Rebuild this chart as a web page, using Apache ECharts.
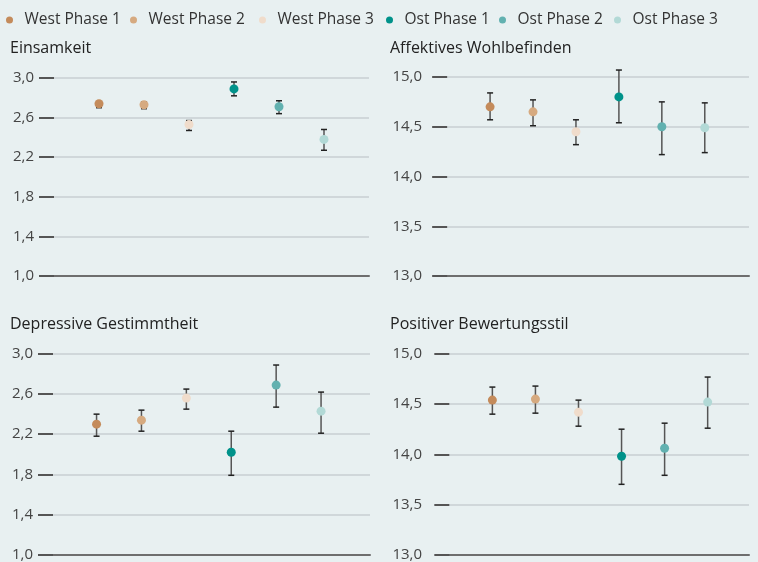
<!DOCTYPE html>
<html>
<head>
<meta charset="utf-8">
<script src="https://cdn.jsdelivr.net/npm/echarts@6/dist/echarts.min.js"></script>
<style>
  html, body { margin: 0; padding: 0; background: #e8f0f1; }
  #chart { width: 758px; height: 562px; }
</style>
</head>
<body>
<div id="chart"></div>
<script>
// Gruppen + Farben
const groups = ['West Phase 1', 'West Phase 2', 'West Phase 3', 'Ost Phase 1', 'Ost Phase 2', 'Ost Phase 3'];
const colors = ['#c48b5b', '#d6aa80', '#f0dccb', '#00928a', '#62b1b0', '#b2d9d6'];

// Einsamkeit
const einsamkeitMean = [2.74, 2.73, 2.53, 2.89, 2.71, 2.38];
const einsamkeitLow  = [2.70, 2.69, 2.47, 2.82, 2.64, 2.27];
const einsamkeitHigh = [2.76, 2.76, 2.57, 2.96, 2.77, 2.48];

// Affektives Wohlbefinden
const wohlMean = [14.70, 14.65, 14.45, 14.80, 14.50, 14.49];
const wohlLow  = [14.57, 14.51, 14.32, 14.54, 14.22, 14.24];
const wohlHigh = [14.84, 14.77, 14.57, 15.07, 14.75, 14.74];

// Depressive Gestimmtheit
const depMean = [2.30, 2.34, 2.56, 2.02, 2.69, 2.43];
const depLow  = [2.18, 2.23, 2.45, 1.79, 2.47, 2.21];
const depHigh = [2.40, 2.44, 2.65, 2.23, 2.89, 2.62];

// Positiver Bewertungsstil
const posMean = [14.54, 14.55, 14.42, 13.98, 14.06, 14.52];
const posLow  = [14.40, 14.41, 14.28, 13.70, 13.79, 14.26];
const posHigh = [14.67, 14.68, 14.54, 14.25, 14.31, 14.77];

const titles = ['Einsamkeit', 'Affektives Wohlbefinden', 'Depressive Gestimmtheit', 'Positiver Bewertungsstil'];
const yMin = [1, 13, 1, 13];
const yMax = [3, 15, 3, 15];
const yStep = [0.4, 0.5, 0.4, 0.5];
const panels = [
  [einsamkeitMean, einsamkeitLow, einsamkeitHigh],
  [wohlMean, wohlLow, wohlHigh],
  [depMean, depLow, depHigh],
  [posMean, posLow, posHigh]
];

const FONT = 'Open Sans';
const grids = [
  { left: 54, top: 78, width: 315, height: 198 },
  { left: 442, top: 77, width: 307, height: 199 },
  { left: 53, top: 354, width: 317, height: 201 },
  { left: 442, top: 354, width: 307, height: 201 }
];
const xRange = [[0, 7], [-0.12, 7.03], [0.03, 7.09], [-0.17, 6.96]];
const titlePos = [[10, 40], [390, 40], [10, 316], [390, 316]];
const legendLeft = [6, 130, 259, 386, 499, 614];

let myChart = echarts.init(document.getElementById('chart'));

function errorBars(params, api) {
  const lo = api.coord([api.value(0), api.value(1)]);
  const hi = api.coord([api.value(0), api.value(2)]);
  const hw = 3;
  return {
    type: 'group',
    children: [
      { type: 'line', shape: { x1: lo[0], y1: hi[1], x2: lo[0], y2: lo[1] }, style: { stroke: '#555', lineWidth: 1.5 } },
      { type: 'line', shape: { x1: lo[0] - hw, y1: hi[1], x2: lo[0] + hw, y2: hi[1] }, style: { stroke: '#222', lineWidth: 1.5 } },
      { type: 'line', shape: { x1: lo[0] - hw, y1: lo[1], x2: lo[0] + hw, y2: lo[1] }, style: { stroke: '#222', lineWidth: 1.5 } }
    ]
  };
}

let series = [];
panels.forEach(function (p, i) {
  // Fehlerbalken zuerst, Punkte darüber
  series.push({
    type: 'custom',
    xAxisIndex: i,
    yAxisIndex: i,
    z: 2,
    silent: true,
    renderItem: errorBars,
    encode: { x: 0, y: [1, 2] },
    data: groups.map(function (g, k) { return [k + 1, p[1][k], p[2][k]]; })
  });
  groups.forEach(function (g, k) {
    series.push({
      name: g,
      type: 'scatter',
      xAxisIndex: i,
      yAxisIndex: i,
      z: 3,
      symbolSize: 9,
      itemStyle: { color: colors[k], opacity: 1 },
      data: [[k + 1, p[0][k]]]
    });
  });
});

myChart.setOption({
  backgroundColor: '#e8f0f1',
  animation: false,
  textStyle: { fontFamily: FONT },
  title: titles.map(function (t, i) {
    return {
      text: t, left: titlePos[i][0], top: titlePos[i][1], padding: 0,
      textStyle: { fontFamily: FONT, fontSize: 16, fontWeight: 'normal', color: '#222' }
    };
  }),
  legend: groups.map(function (g, k) {
    return {
      data: [g], left: legendLeft[k], top: 12, padding: 0,
      icon: 'circle', itemWidth: 14, itemHeight: 7, itemGap: 0,
      selectedMode: false,
      textStyle: { fontFamily: FONT, fontSize: 15.5, color: '#333', padding: [0, 0, 0, 3] }
    };
  }),
  grid: grids,
  xAxis: grids.map(function (gr, i) {
    return {
      type: 'value', gridIndex: i, min: xRange[i][0], max: xRange[i][1],
      axisLine: { show: true, onZero: false, lineStyle: { color: '#6e6e6e', width: 2 } },
      axisTick: { show: false }, axisLabel: { show: false }, splitLine: { show: false }
    };
  }),
  yAxis: grids.map(function (gr, i) {
    return {
      type: 'value', gridIndex: i, min: yMin[i], max: yMax[i], interval: yStep[i],
      axisLine: { show: false },
      axisTick: { show: true, length: 15, lineStyle: { color: '#555', width: 2 } },
      axisLabel: {
        margin: 20, fontFamily: FONT, fontSize: 15, color: '#444',
        formatter: function (v) { return v.toFixed(1).replace('.', ','); }
      },
      splitLine: { show: true, lineStyle: { color: '#c8cfd2', width: 1.5 } }
    };
  }),
  series: series
});
</script>
</body>
</html>
